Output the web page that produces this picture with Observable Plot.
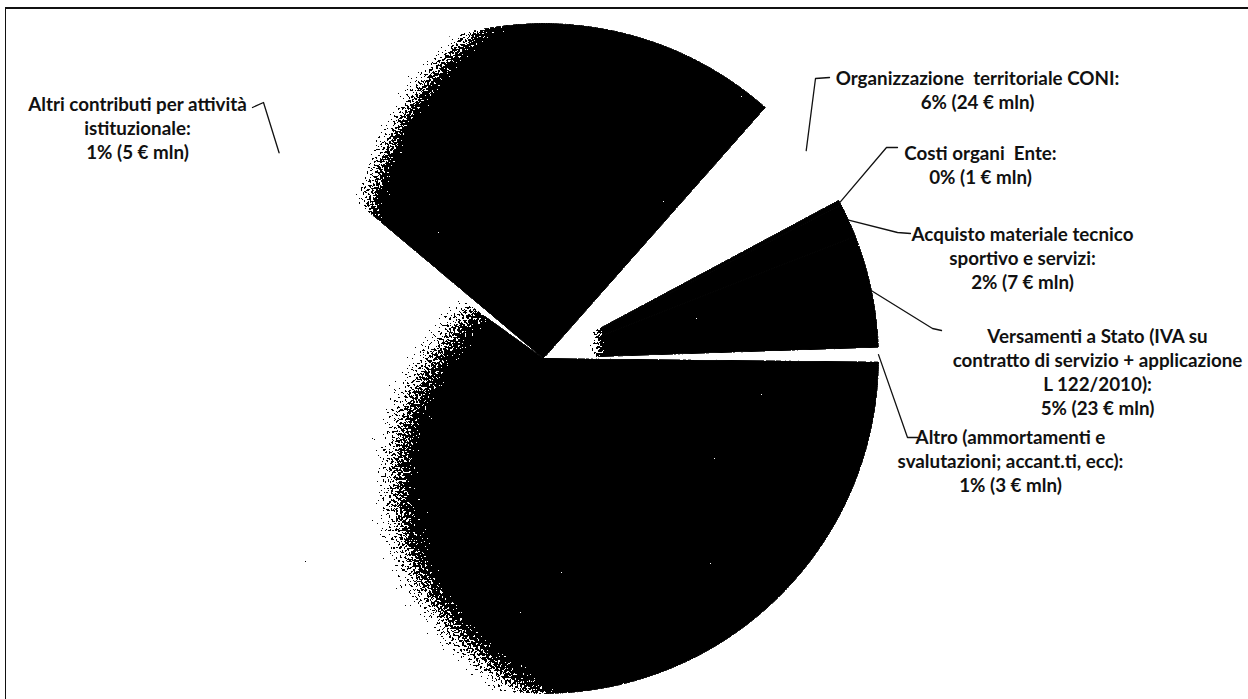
<!DOCTYPE html>
<html>
<head>
<meta charset="utf-8">
<script src="https://cdn.jsdelivr.net/npm/d3@7"></script>
<script src="https://cdn.jsdelivr.net/npm/@observablehq/plot@0.6"></script>
<style>
  html, body { margin: 0; padding: 0; background: #fff; }
  #wrap { position: relative; width: 1248px; height: 699px; overflow: hidden; }
  #wrap svg { position: absolute; left: 0; top: 0; }
  #border { position: absolute; left: 5px; top: 7px; right: -4px; bottom: -10px;
            border-top: 2px solid #111; border-left: 1.5px solid #111; pointer-events: none; }
</style>
</head>
<body>
<div id="wrap"><div id="border"></div></div>
<script>
// ---------------- DATA ----------------
// slices, clockwise, starting from the large upper slice
const categories = [
  "Voce A",
  "Organizzazione territoriale CONI",
  "Costi organi Ente",
  "Acquisto materiale tecnico sportivo e servizi",
  "Versamenti a Stato (IVA su contratto di servizio + applicazione L 122/2010)",
  "Altro (ammortamenti e svalutazioni; accant.ti, ecc)",
  "Voce B",
  "Altri contributi per attività istituzionale"
];
const values = [108, 24, 1, 7, 23, 3, 254, 5];          // € mln (A and B estimated)
const labelTexts = [
  null,
  "Organizzazione  territoriale CONI:\n6% (24 € mln)",
  "Costi organi  Ente:\n0% (1 € mln)",
  "Acquisto materiale tecnico\nsportivo e servizi:\n2% (7 € mln)",
  "Versamenti a Stato (IVA su\ncontratto di servizio + applicazione\nL 122/2010):\n5% (23 € mln)",
  "Altro (ammortamenti e\nsvalutazioni; accant.ti, ecc):\n1% (3 € mln)",
  null,
  "Altri contributi per attività\nistituzionale:\n1% (5 € mln)"
];

// ---------------- LAYOUT / STYLE ----------------
const W = 1248, H = 699, CX = 543, CY = 358, R = 335;
const startAngle = 310;                                  // degrees, clockwise from 12 o'clock
const paints = ["url(#gA)", "none", "url(#gW)", "url(#gW)", "url(#gW)", "none", "url(#gB)", "none"];
// label centre (px) and leader knee points (px), per slice index
const labelLayout = {
  1: {x: 977,  y: 89,  leader: [[829, 77], [815, 78]]},
  2: {x: 980,  y: 164, leader: [[897, 147], [886, 147]]},
  3: {x: 1022, y: 257, leader: [[910, 233], [897, 232]]},
  4: {x: 1097, y: 371, leader: [[941, 330], [932, 328]]},
  5: {x: 1010, y: 460, leader: [[917, 437], [907, 437]]},
  7: {x: 137,  y: 127, leader: [[252, 107], [263, 102]]}
};
const u = ([px, py]) => [(px - CX) / R, (CY - py) / R];

// ---------------- GEOMETRY FROM DATA ----------------
const total = d3.sum(values);
let acc = startAngle;
const slices = values.map((v, i) => {
  const a0 = acc, a1 = acc + v / total * 360;
  acc = a1;
  return {i, a0, a1, mid: (a0 + a1) / 2};
});
const rad = (deg) => deg * Math.PI / 180;
const polyRows = [];
for (const s of slices) {
  polyRows.push({slice: s.i, x: 0, y: 0, paint: paints[s.i]});
  const n = Math.max(2, Math.ceil((s.a1 - s.a0) / 0.4));
  for (let k = 0; k <= n; k++) {
    const a = rad(s.a0 + (s.a1 - s.a0) * k / n);
    polyRows.push({slice: s.i, x: Math.sin(a), y: Math.cos(a), paint: paints[s.i]});
  }
  polyRows.push({slice: s.i, x: 0, y: 0, paint: paints[s.i]});
}
const leaderRows = [], labelRows = [];
for (const s of slices) {
  const L = labelLayout[s.i];
  if (!L || !labelTexts[s.i]) continue;
  const pts = [...L.leader.map(u), [Math.sin(rad(s.mid)), Math.cos(rad(s.mid))]];
  pts.forEach(([x, y]) => leaderRows.push({slice: s.i, x, y}));
  const [lx, ly] = u([L.x, L.y]);
  labelRows.push({x: lx, y: ly, text: labelTexts[s.i]});
}

// ---------------- PLOT ----------------
const plot = Plot.plot({
  width: W, height: H, margin: 0,
  x: {domain: [-CX / R, (W - CX) / R], axis: null},
  y: {domain: [(CY - H) / R, CY / R], axis: null},
  color: {type: "identity"},
  style: {background: "transparent", overflow: "visible"},
  marks: [
    Plot.line(polyRows, {x: "x", y: "y", z: "slice", fill: "paint", stroke: "paint", strokeWidth: 1, curve: "linear"}),
    Plot.line(leaderRows, {x: "x", y: "y", z: "slice", stroke: "#111", strokeWidth: 1.3}),
    Plot.text(labelRows, {x: "x", y: "y", text: "text", textAnchor: "middle", lineAnchor: "middle",
      lineHeight: 1.28, fontFamily: "Lato, 'Open Sans', sans-serif", fontWeight: "bold", fontSize: 18.8, fill: "#111"})
  ]
});

// gradients + scan filter (styling of the rendered pie)
const ns = "http://www.w3.org/2000/svg";
const defs = document.createElementNS(ns, "defs");
defs.innerHTML = `
  <radialGradient id="gA" gradientUnits="userSpaceOnUse" cx="690" cy="260" r="360"
      gradientTransform="translate(690 260) scale(1 0.933) translate(-690 -260)">
    <stop offset="0.84" stop-color="#000"/><stop offset="0.975" stop-color="#fff"/>
  </radialGradient>
  <linearGradient id="gW" gradientUnits="userSpaceOnUse" x1="584" y1="0" x2="610" y2="0">
    <stop offset="0" stop-color="#fff"/><stop offset="1" stop-color="#000"/>
  </linearGradient>
  <radialGradient id="gB" gradientUnits="userSpaceOnUse" cx="750" cy="480" r="420"
      gradientTransform="translate(750 480) scale(1 0.77) translate(-750 -480)">
    <stop offset="0.76" stop-color="#000"/><stop offset="0.93" stop-color="#fff"/>
  </radialGradient>
  <filter id="scan" filterUnits="userSpaceOnUse" x="0" y="0" width="${W}" height="${H}" color-interpolation-filters="sRGB">
    <feFlood flood-color="#fff" result="bg"/>
    <feComposite in="SourceGraphic" in2="bg" operator="over" result="flat"/>
    <feTurbulence type="fractalNoise" baseFrequency="0.45" numOctaves="3" seed="7" result="noise"/>
    <feColorMatrix in="noise" type="matrix" values="1 0 0 0 0  1 0 0 0 0  1 0 0 0 0  0 0 0 0 1" result="gnoise"/>
    <feComposite in="flat" in2="gnoise" operator="arithmetic" k1="0" k2="1" k3="1.2" k4="-0.6" result="mix"/>
    <feComponentTransfer in="mix" result="bin">
      <feFuncR type="discrete" tableValues="0 1"/>
      <feFuncG type="discrete" tableValues="0 1"/>
      <feFuncB type="discrete" tableValues="0 1"/>
      <feFuncA type="linear" slope="0" intercept="1"/>
    </feComponentTransfer>
    <feColorMatrix in="bin" type="matrix" values="0 0 0 0 0  0 0 0 0 0  0 0 0 0 0  -1 0 0 0 1" result="ink"/>
    <feComposite in="ink" in2="SourceAlpha" operator="in"/>
  </filter>`;
plot.insertBefore(defs, plot.firstChild);
const pieGroup = plot.querySelector('g[aria-label="line"]');
if (pieGroup) pieGroup.setAttribute("filter", "url(#scan)");

document.getElementById("wrap").insertBefore(plot, document.getElementById("border"));
</script>
</body>
</html>
